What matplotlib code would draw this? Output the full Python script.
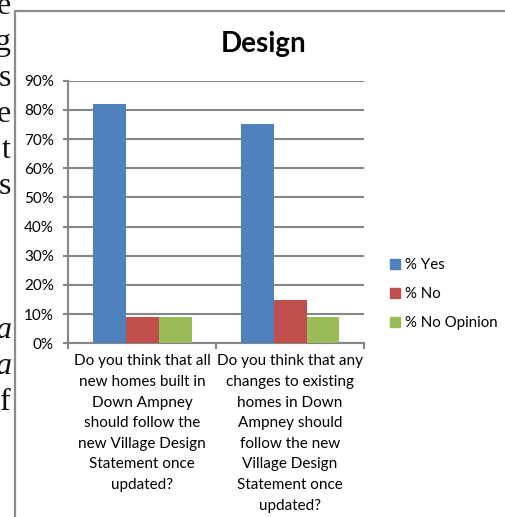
import matplotlib
matplotlib.use('Agg')
import matplotlib.pyplot as plt
from matplotlib.lines import Line2D
from matplotlib.patches import Patch
import numpy as np

### Data

categories = [
    'Do you think that all\nnew homes built in\nDown Ampney\nshould follow the\nnew Village Design\nStatement once\nupdated?',
    'Do you think that any\nchanges to existing\nhomes in Down\nAmpney should\nfollow the new\nVillage Design\nStatement once\nupdated?',
]
series_names = ['% Yes', '% No', '% No Opinion']
pct_yes = [82, 75]
pct_no = [9, 15]
pct_no_opinion = [9, 9]
y_ticks = [0, 10, 20, 30, 40, 50, 60, 70, 80, 90]

# clipped document text showing at the left edge of the page
margin_letters = ['e', 'g', 's', 'e', 't', 's', '', '', '', 'a', 'a', 'f']
margin_italic = [False] * 9 + [True, True, False]

colors = ['#4F81BD', '#C0504D', '#9BBB59']
grid_col = '#868686'
font = ['Lato', 'DejaVu Sans']

W, H = 506, 517
fig = plt.figure(figsize=(W / 100, H / 100), dpi=100)
plt.rcParams['font.family'] = font

def fx(px):
    return px / W

def fy(py):
    return (H - py) / H

# outer chart frame (continues past the right and bottom edges)
fig.add_artist(Line2D([fx(15), fx(15), fx(W + 5)], [fy(H + 5), fy(10.5), fy(10.5)],
                      transform=fig.transFigure, color='#8c8c8c', lw=1.6))

# page text peeking in on the left
for i, (ch, it) in enumerate(zip(margin_letters, margin_italic)):
    if ch:
        fig.text(fx(11), fy(14 + 36 * i), ch, ha='right', va='baseline',
                 fontsize=23, family='Liberation Serif',
                 style='italic' if it else 'normal', color='#111111')

# plot area
ax = fig.add_axes([fx(68.5), fy(343.3), fx(364) - fx(68.5), fy(80.7) - fy(343.3)])
x = np.arange(len(categories))
w = 1 / 4.5
for k, vals in enumerate([pct_yes, pct_no, pct_no_opinion]):
    ax.bar(x + (k - 1) * w, vals, w, color=colors[k], label=series_names[k], zorder=3)

ax.set_xlim(-0.5, len(categories) - 0.5)
ax.set_ylim(0, 90)
ax.set_yticks(y_ticks)
ax.set_yticklabels([f'{t}%' for t in y_ticks])
ax.yaxis.grid(True, color=grid_col, lw=1.5, zorder=0)
ax.set_axisbelow(True)

for s in ['top', 'right']:
    ax.spines[s].set_visible(False)
for s in ['left', 'bottom']:
    ax.spines[s].set_color(grid_col)
    ax.spines[s].set_linewidth(1.5)

ax.tick_params(axis='y', length=3.6, width=1.5, color=grid_col, pad=7,
               labelsize=11, labelcolor='black')
ax.set_xticks(x)
ax.set_xticklabels(categories, fontsize=11, linespacing=1.6)
ax.set_xticks(np.arange(-0.5, len(categories)), minor=True)
ax.tick_params(axis='x', which='major', length=0, pad=8, labelcolor='black')
ax.tick_params(axis='x', which='minor', length=4, width=1.5, color=grid_col)

# title
fig.text(fx(264), fy(52), 'Design', ha='center', va='baseline',
         fontsize=20, fontweight='bold')

# legend
handles = [Patch(color=c) for c in colors]
ax.legend(handles, series_names, loc='center left', frameon=False,
          bbox_to_anchor=(fx(390), fy(294)), bbox_transform=fig.transFigure,
          borderpad=0, borderaxespad=0, handlelength=0.7, handleheight=0.7,
          handletextpad=0.3, labelspacing=1.0, fontsize=10.8)

fig.savefig('out.png', dpi=100)
